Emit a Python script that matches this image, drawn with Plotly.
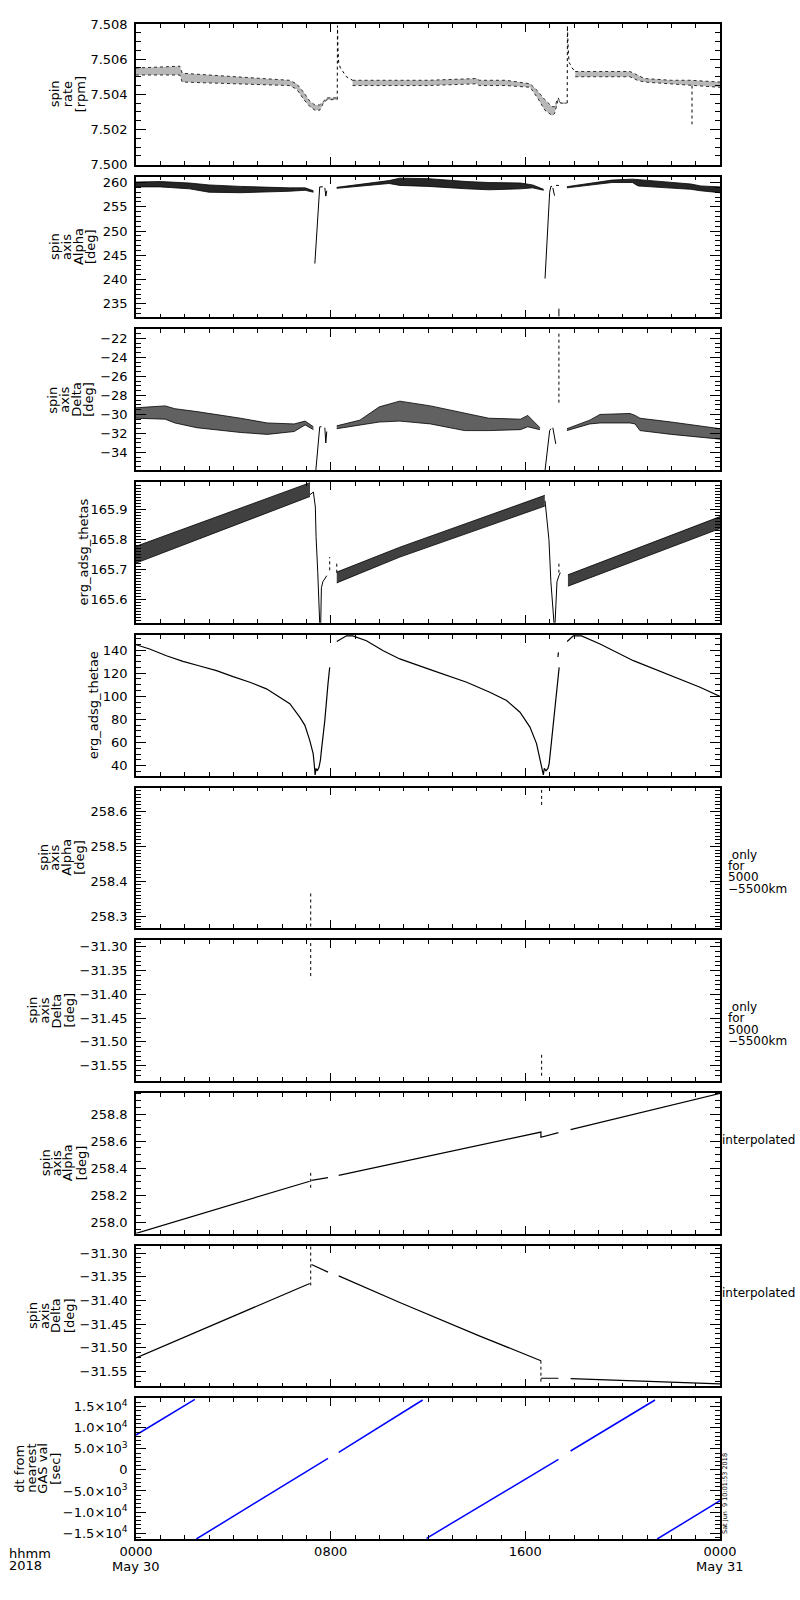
import plotly.graph_objects as go

# x = hours after 0000 UT, May 30 2018 ; None marks a gap in a line

# panel 1: spin rate [rpm]
p1_a_hr = [0, 1.8, 1.9, 4.0, 6.3, 6.6, 6.9, 7.15, 7.35, 7.55, 7.7, 7.85, 8.25]
p1_a_hi = [7.5055, 7.5056, 7.5052, 7.5050, 7.5048, 7.5046, 7.5041, 7.5036, 7.5034, 7.5034, 7.5036, 7.5038, 7.5038]
p1_a_lo = [7.5051, 7.5051, 7.5047, 7.5046, 7.5045, 7.5043, 7.5037, 7.5033, 7.5031, 7.5031, 7.5035, 7.5037, 7.5037]
p1_b_hr = [8.9, 10.0, 12.0, 14.0, 14.1, 15.2, 16.2, 16.5, 16.8, 17.1, 17.2, 17.35, 17.45, 17.7]
p1_b_hi = [7.5048, 7.5048, 7.5048, 7.5049, 7.5048, 7.5048, 7.5046, 7.5042, 7.5037, 7.5033, 7.5033, 7.5038, 7.5035, 7.5035]
p1_b_lo = [7.5045, 7.5045, 7.5045, 7.5046, 7.5045, 7.5045, 7.5044, 7.5038, 7.5031, 7.5028, 7.5029, 7.5037, 7.5035, 7.5035]
p1_c_hr = [18.05, 19.0, 20.3, 20.45, 20.6, 20.9, 22.0, 22.8, 24.0]
p1_c_hi = [7.5053, 7.5053, 7.5053, 7.5052, 7.5051, 7.5049, 7.5048, 7.5048, 7.5047]
p1_c_lo = [7.5050, 7.5050, 7.5050, 7.5049, 7.5048, 7.5047, 7.5046, 7.5045, 7.5044]
p1_spk_hr = [8.27, 8.28, 8.30, 8.33, 8.40, 8.50, 8.65, 8.90, None,
             17.72, 17.73, 17.76, 17.80, 17.85, 17.92, 18.05, None, 22.85, 22.85]
p1_spk_val = [7.5037, 7.5079, 7.5066, 7.5058, 7.5055, 7.5053, 7.5050, 7.5048, None,
              7.5035, 7.5079, 7.5066, 7.5058, 7.5057, 7.5055, 7.5053, None, 7.5045, 7.5023]

# panel 2: spin axis Alpha [deg]
p2_a_hr = [0, 1.0, 2.2, 3.0, 4.3, 5.4, 6.3, 6.95, 7.29]
p2_a_hi = [260.1, 260.2, 259.9, 259.5, 259.2, 259.0, 258.9, 258.9, 258.3]
p2_a_lo = [259.1, 259.1, 258.7, 258.0, 257.9, 258.0, 258.2, 258.4, 258.0]
p2_b_hr = [8.25, 9.2, 10.4, 10.84, 12.0, 13.6, 14.5, 15.8, 16.3, 16.75]
p2_b_hi = [259.0, 259.6, 260.4, 260.9, 260.8, 260.2, 260.0, 259.9, 259.5, 258.6]
p2_b_lo = [258.8, 259.3, 259.8, 259.4, 259.2, 258.7, 258.5, 258.7, 258.9, 258.4]
p2_c_hr = [17.71, 18.7, 19.56, 20.4, 20.63, 21.5, 22.8, 23.2, 24.0]
p2_c_hi = [259.15, 259.9, 260.5, 260.7, 260.6, 260.3, 259.7, 259.3, 259.1]
p2_c_lo = [258.9, 259.5, 260.0, 260.0, 259.3, 259.0, 258.6, 258.3, 257.9]
p2_ev_hr = [7.35, 7.52, 7.55, 7.68, None, 7.76, 7.80, 7.84, None,
            16.81, 17.0, 17.05, 17.1, None, 17.13, 17.2, None, 17.26, 17.38, None, 17.38, 17.38]
p2_ev_val = [243.3, 258.2, 259.1, 259.1, None, 258.9, 257.2, 258.3, None,
             240.2, 258.0, 259.2, 259.2, None, 258.9, 257.3, None, 259.4, 259.4, None, 234.0, 232.4]

# panel 3: spin axis Delta [deg]
p3_a_hr = [0, 1.2, 1.6, 2.5, 4.3, 5.4, 6.5, 6.95, 7.29]
p3_a_hi = [-29.3, -29.1, -29.4, -29.7, -30.4, -30.9, -31.0, -30.7, -31.3]
p3_a_lo = [-30.4, -30.5, -30.9, -31.4, -31.9, -32.1, -31.8, -31.1, -31.6]
p3_b_hr = [8.25, 9.2, 10.0, 10.84, 12.1, 13.5, 14.5, 15.8, 16.1, 16.6]
p3_b_hi = [-31.2, -30.6, -29.2, -28.6, -29.1, -29.9, -30.4, -30.5, -30.1, -31.4]
p3_b_lo = [-31.5, -31.1, -30.8, -30.7, -31.0, -31.7, -31.7, -31.6, -31.3, -31.6]
p3_c_hr = [17.71, 18.65, 19.07, 20.3, 20.51, 20.71, 22.0, 22.8, 24.0]
p3_c_hi = [-31.5, -30.6, -30.0, -29.9, -30.1, -30.4, -30.8, -31.1, -31.5]
p3_c_lo = [-31.7, -31.0, -30.9, -30.9, -31.0, -31.7, -32.1, -32.3, -32.6]
p3_ev_hr = [7.39, 7.52, 7.55, 7.62, None, 7.76, 7.80, 7.84, None,
            16.81, 17.0, 17.05, None, 17.13, 17.2, 17.25]
p3_ev_val = [-35.9, -31.6, -31.3, -31.3, None, -31.4, -33.0, -31.8, None,
             -35.9, -31.7, -31.5, None, -31.4, -32.5, -33.1]
p3_spk_hr = [17.38, 17.38]
p3_spk_val = [-21.5, -28.9]

# panel 4: erg_adsg_thetas
p4_a_hr = [0, 7.15]
p4_a_hi = [165.778, 165.990]
p4_a_lo = [165.722, 165.944]
p4_b_hr = [8.25, 10.84, 16.8]
p4_b_hi = [165.692, 165.775, 165.948]
p4_b_lo = [165.656, 165.742, 165.912]
p4_c_hr = [17.75, 24.0]
p4_c_hi = [165.683, 165.877]
p4_c_lo = [165.645, 165.837]
p4_ev_hr = [7.15, 7.29, 7.37, 7.40, 7.47, 7.50, 7.55, None, 7.59, 7.62, 7.68, 7.76, 7.84, None,
            16.81, 16.85, 16.97, 17.05, 17.13, 17.18, None, 17.22, 17.26, 17.3, 17.38, 17.44]
p4_ev_val = [165.95, 165.959, 165.909, 165.81, 165.69, 165.64, 165.52, None, 165.52, 165.64, 165.66, 165.67, 165.68, None,
             165.93, 165.898, 165.80, 165.66, 165.565, 165.52, None, 165.52, 165.62, 165.66, 165.68, 165.69]
p4_spk_hr = [7.96, 7.96, None, 8.25, 8.25, None, 17.38, 17.38]
p4_spk_val = [165.698, 165.742, None, 165.69, 165.725, None, 165.69, 165.73]

# panel 5: erg_adsg_thetae
p5_hr = [0, 0.56, 1.25, 1.93, 2.62, 3.31, 3.99, 4.68, 5.36, 6.04, 6.32, 6.73, 6.94, 7.14, 7.28, 7.33,
         7.36, 7.40, 7.45, 7.52, 7.58, 7.62, 7.76, 7.89, 7.96, None,
         8.25, 8.65, 8.91, 9.47, 10.16, 10.84, 12.21, 13.59, 14.54, 15.23, 15.78, 16.19, 16.46, 16.62,
         16.74, 16.78, 16.85, 16.93, 16.98, 17.08, 17.22, 17.33, 17.39, None, 17.34, 17.36, None,
         17.72, 17.97, 18.31, 19.07, 20.44, 21.81, 23.18, 24.0]
p5_val = [144.6, 140.9, 135.1, 130.2, 126.2, 122.2, 117.0, 112.1, 106.4, 97.8, 93.5, 81.9, 74.8, 61.8, 50.4, 40.0,
          31.8, 37.5, 35.5, 38.5, 45.0, 53.2, 79.1, 110.7, 125.0, None,
          147.4, 152.3, 152.3, 148.0, 139.4, 132.3, 122.2, 112.1, 103.5, 96.3, 86.2, 73.3, 59.0, 44.6,
          32.0, 37.5, 35.5, 37.5, 41.7, 61.8, 90.5, 116.4, 125.0, None, 134.0, 138.0, None,
          147.4, 152.3, 152.3, 145.2, 130.8, 119.3, 107.8, 99.8]

# panels 6/7: spin axis only for 5000-5500 km
p6_hr = [7.18, 7.18, None, 16.67, 16.67]
p6_val = [258.27, 258.37, None, 258.62, 258.67]
p7_hr = [7.18, 7.18, None, 16.67, 16.67]
p7_val = [-31.292, -31.368, None, -31.527, -31.574]

# panels 8/9: interpolated spin axis
p8_hr = [0, 7.14, None, 7.21, 7.89, None, 8.33, 10.84, 16.64, 16.64, 17.36, None, 17.86, 24.0]
p8_val = [257.918, 258.304, None, 258.31, 258.33, None, 258.347, 258.445, 258.668, 258.629, 258.664, None, 258.686, 258.954]
p8_spk_hr = [7.18, 7.18]
p8_spk_val = [258.255, 258.38]
p9_hr = [0, 7.14, None, 7.21, 7.89, None, 8.33, 10.84, 14.13, 16.64, None, 16.64, 17.36, None, 17.86, 20.0, 22.0, 24.0]
p9_val = [-31.521, -31.364, None, -31.324, -31.340, None, -31.348, -31.404, -31.475, -31.527, None,
          -31.564, -31.564, None, -31.565, -31.569, -31.573, -31.576]
p9_spk_hr = [7.18, 7.18, None, 16.64, 16.64]
p9_spk_val = [-31.286, -31.368, None, -31.527, -31.575]

# panel 10: dt from nearest GAS val [sec]
p10_hr = [0, 2.42, None, 2.48, 7.89, None, 8.33, 10.84, 11.78, None, 11.94, 17.36, None,
          17.86, 21.33, None, 21.42, 24.0]
p10_val = [8288, 16760, None, -16400, 2756, None, 4180, 13273, 16600, None, -16240, 2520, None,
           4490, 16600, None, -16400, -7310]

# axis settings per panel
x_tickvals = [0, 8, 16, 24]
x_ticktext = ['0000', '0800', '1600', '0000']
x_daylabels = [(0, 'May 30'), (24, 'May 31')]
y_ranges = [[7.500, 7.508], [232.2, 261.2], [-35.86, -21.05], [165.523, 165.992], [31.4, 153.2],
            [258.265, 258.670], [-31.582, -31.286], [257.916, 258.958], [-31.581, -31.284], [-16400, 17000]]
y_dtick = [0.002, 5, 2, 0.1, 20, 0.1, 0.05, 0.2, 0.05, 5000]
y_minor = [0.0005, 1, 0.5, 0.01, 5, 0.01, 0.01, 0.05, 0.01, 1000]
y_fmt = ['.3f', 'd', 'd', '.1f', 'd', '.1f', '.2f', '.1f', '.2f', None]
p10_tickvals = [-15000, -10000, -5000, 0, 5000, 10000, 15000]
p10_ticktext = ['\u22121.5\u00d710<sup>4</sup>', '\u22121.0\u00d710<sup>4</sup>', '\u22125.0\u00d710<sup>3</sup>', '0',
                '5.0\u00d710<sup>3</sup>', '1.0\u00d710<sup>4</sup>', '1.5\u00d710<sup>4</sup>']

y_titles = [
    (['spin', 'rate', '[rpm]'], [54, 67, 80]),
    (['spin', 'axis', 'Alpha', '[deg]'], [54, 66, 78, 90]),
    (['spin', 'axis', 'Delta', '[deg]'], [53, 65, 77, 89]),
    (['erg_adsg_thetas'], [83]),
    (['erg_adsg_thetae'], [93]),
    (['spin', 'axis', 'Alpha', '[deg]'], [44, 55, 67, 80]),
    (['spin', 'axis', 'Delta', '[deg]'], [33, 45, 57, 70]),
    (['spin', 'axis', 'Alpha', '[deg]'], [45, 56, 67, 81]),
    (['spin', 'axis', 'Delta', '[deg]'], [33, 45, 56, 70]),
    (['dt from', 'nearest', 'GAS val', '[sec]'], [20, 32, 43, 56]),
]

FONT = 'DejaVu Sans'
FIG_W, FIG_H = 800, 1600
L, R, T, B = 136, 80, 24, 61
PW = FIG_W - L - R
PH = FIG_H - T - B
PANEL_H = 140.7
PANEL_STEP = 152.7


def px_x(px):
    return (px - L) / PW


def px_y(py):
    return (FIG_H - B - py) / PH


def names(i):
    return ('x' if i == 0 else 'x%d' % (i + 1)), ('y' if i == 0 else 'y%d' % (i + 1))


fig = go.Figure()


def add_line(i, hr, val, color='black', width=1.0, dash=None):
    xa, ya = names(i)
    fig.add_trace(go.Scatter(x=hr, y=val, mode='lines', xaxis=xa, yaxis=ya,
                             line=dict(color=color, width=width, dash=dash),
                             connectgaps=False, showlegend=False, hoverinfo='skip'))


def add_band(i, hr, hi, lo, color, edge=None):
    xa, ya = names(i)
    fig.add_trace(go.Scatter(x=hr, y=lo, mode='lines', xaxis=xa, yaxis=ya,
                             line=dict(color='black', width=0.8, dash=edge),
                             showlegend=False, hoverinfo='skip'))
    fig.add_trace(go.Scatter(x=hr, y=hi, mode='lines', xaxis=xa, yaxis=ya, fill='tonexty',
                             fillcolor=color, line=dict(color='black', width=0.8, dash=edge),
                             showlegend=False, hoverinfo='skip'))


for hr, hi, lo in [(p1_a_hr, p1_a_hi, p1_a_lo), (p1_b_hr, p1_b_hi, p1_b_lo), (p1_c_hr, p1_c_hi, p1_c_lo)]:
    add_band(0, hr, hi, lo, 'rgba(0,0,0,0.28)', edge='dot')
add_line(0, p1_spk_hr, p1_spk_val, dash='dot')

for hr, hi, lo in [(p2_a_hr, p2_a_hi, p2_a_lo), (p2_b_hr, p2_b_hi, p2_b_lo), (p2_c_hr, p2_c_hi, p2_c_lo)]:
    add_band(1, hr, hi, lo, 'rgba(0,0,0,0.85)')
add_line(1, p2_ev_hr, p2_ev_val)

for hr, hi, lo in [(p3_a_hr, p3_a_hi, p3_a_lo), (p3_b_hr, p3_b_hi, p3_b_lo), (p3_c_hr, p3_c_hi, p3_c_lo)]:
    add_band(2, hr, hi, lo, 'rgba(0,0,0,0.62)')
add_line(2, p3_ev_hr, p3_ev_val)
add_line(2, p3_spk_hr, p3_spk_val, dash='dot')

for hr, hi, lo in [(p4_a_hr, p4_a_hi, p4_a_lo), (p4_b_hr, p4_b_hi, p4_b_lo), (p4_c_hr, p4_c_hi, p4_c_lo)]:
    add_band(3, hr, hi, lo, 'rgba(0,0,0,0.75)')
add_line(3, p4_ev_hr, p4_ev_val)
add_line(3, p4_spk_hr, p4_spk_val, dash='dot')

add_line(4, p5_hr, p5_val, width=1.2)
add_line(5, p6_hr, p6_val, dash='dot')
add_line(6, p7_hr, p7_val, dash='dot')
add_line(7, p8_hr, p8_val, width=1.2)
add_line(7, p8_spk_hr, p8_spk_val, dash='dot')
add_line(8, p9_hr, p9_val, width=1.2)
add_line(8, p9_spk_hr, p9_spk_val, dash='dot')
add_line(9, p10_hr, p10_val, color='#0000ff', width=1.5)

tick_font = dict(family=FONT, size=13, color='black')
layout = dict(width=FIG_W, height=FIG_H, margin=dict(l=L, r=R, t=T, b=B),
              paper_bgcolor='white', plot_bgcolor='white', showlegend=False)
annotations = []

for i in range(10):
    top = T + i * PANEL_STEP
    bot = top + PANEL_H
    dom = [max(0.0, px_y(bot)), min(1.0, px_y(top))]
    xa, ya = names(i)
    xkey = 'xaxis' if i == 0 else 'xaxis%d' % (i + 1)
    ykey = 'yaxis' if i == 0 else 'yaxis%d' % (i + 1)
    last = (i == 9)
    layout[xkey] = dict(domain=[0, 1], anchor=ya, range=[0, 24], showgrid=False, zeroline=False,
                        showline=True, linecolor='black', linewidth=1.5, mirror='ticks',
                        ticks='inside', ticklen=8, tickcolor='black', tickwidth=1,
                        tickvals=x_tickvals, ticktext=x_ticktext,
                        showticklabels=last, tickfont=tick_font,
                        minor=dict(ticks='inside', ticklen=4, dtick=1, tick0=0, tickcolor='black', tickwidth=1))
    yax = dict(domain=dom, anchor=xa, range=y_ranges[i], showgrid=False, zeroline=False,
               showline=True, linecolor='black', linewidth=1.5, mirror='ticks',
               ticks='inside', ticklen=10, tickcolor='black', tickwidth=1, tickfont=tick_font,
               ticklabelstandoff=4,
               minor=dict(ticks='inside', ticklen=5, dtick=y_minor[i], tick0=0,
                          tickcolor='black', tickwidth=1))
    if last:
        yax.update(tickmode='array', tickvals=p10_tickvals, ticktext=p10_ticktext)
    else:
        yax.update(dtick=y_dtick[i], tick0=0, tickformat=y_fmt[i])
    layout[ykey] = yax

    mid = px_y(top + PANEL_H / 2)
    words, cols = y_titles[i]
    for w, c in zip(words, cols):
        annotations.append(dict(text=w, x=px_x(c), y=mid, xref='paper', yref='paper',
                                xanchor='center', yanchor='middle', textangle=-90, showarrow=False,
                                font=dict(family=FONT, size=13, color='black')))

# day names under the 0000 ticks of the bottom axis
for xv, txt in x_daylabels:
    annotations.append(dict(text=txt, x=xv, y=px_y(1566), xref='x10', yref='paper',
                            xanchor='center', yanchor='middle', showarrow=False, font=tick_font))

# right side notes
note_font = dict(family=FONT, size=12, color='black')
for i in (5, 6):
    top = T + i * PANEL_STEP
    for w, off in zip(['\u00a0only', 'for', '5000', '\u22125500km'], [67, 78, 89.5, 101]):
        annotations.append(dict(text=w, x=px_x(726), y=px_y(top + off), xref='paper', yref='paper',
                                xanchor='left', yanchor='middle', showarrow=False, font=note_font))
for i in (7, 8):
    top = T + i * PANEL_STEP
    annotations.append(dict(text='interpolated', x=px_x(720), y=px_y(top + 47.5), xref='paper', yref='paper',
                            xanchor='left', yanchor='middle', showarrow=False, font=note_font))

annotations.append(dict(text='hhmm', x=px_x(7), y=px_y(1553), xref='paper', yref='paper',
                        xanchor='left', yanchor='middle', showarrow=False, font=tick_font))
annotations.append(dict(text='2018', x=px_x(7), y=px_y(1565), xref='paper', yref='paper',
                        xanchor='left', yanchor='middle', showarrow=False, font=tick_font))
annotations.append(dict(text='Sat Jun  9 10:01:53 2018', x=px_x(725), y=px_y(1494), xref='paper', yref='paper',
                        xanchor='center', yanchor='middle', textangle=-90, showarrow=False,
                        font=dict(family=FONT, size=6.5, color='black')))

layout['annotations'] = annotations
fig.update_layout(layout)
# page body margin off so the 800x1600 figure fills the window exactly
fig.write_html("out.html", config={'displayModeBar': False},
               post_script="document.body.style.margin='0';document.body.style.overflow='hidden';")
